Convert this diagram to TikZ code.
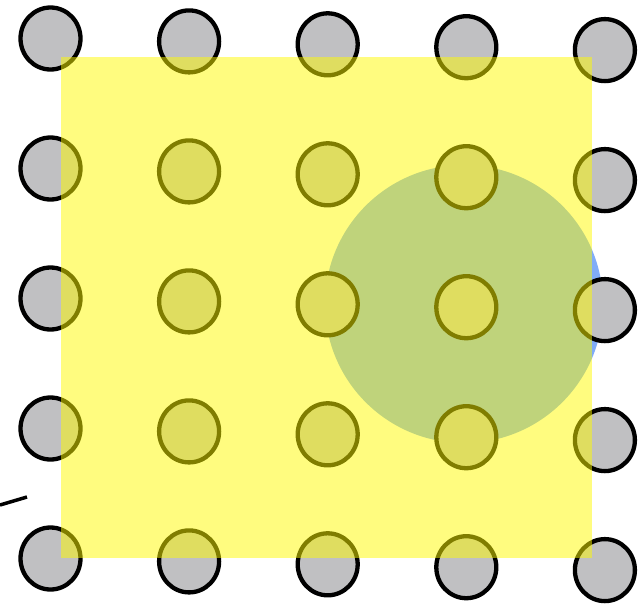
\documentclass[tikz,border=0pt]{standalone}
\definecolor{dotgray}{RGB}{192,192,194}
\definecolor{discblue}{RGB}{128,172,248}
\definecolor{sqyellow}{RGB}{255,250,0}
\tikzset{
  dot/.style={draw=black, fill=dotgray, line width=4.3pt},
  disc/.style={fill=discblue},
  overlay square/.style={fill=sqyellow, fill opacity=0.5},
  stub/.style={draw=black, line width=3.5pt}
}
\begin{document}
\begin{tikzpicture}[x=1pt, y=-1pt]
\useasboundingbox (0,0) rectangle (640,603);
% blue disc
\fill[disc] (464,304) circle (139);
% grid of dots (slight shear: each column sits about 2.9px lower)
\foreach \i in {0,...,4}{
  \foreach \j in {0,...,4}{
    \path[dot] ({50.5+138.6*\i},{38.5+130*\j+2.9*\i}) ellipse (30 and 31);
  }
}
% translucent yellow square on top
\fill[overlay square] (61,57) rectangle (592,558);
% short stroke at left
\coordinate (s1) at (0,505);
\coordinate (s2) at (27,497);
\draw[stub] (s1) -- (s2);
\end{tikzpicture}
\end{document}
